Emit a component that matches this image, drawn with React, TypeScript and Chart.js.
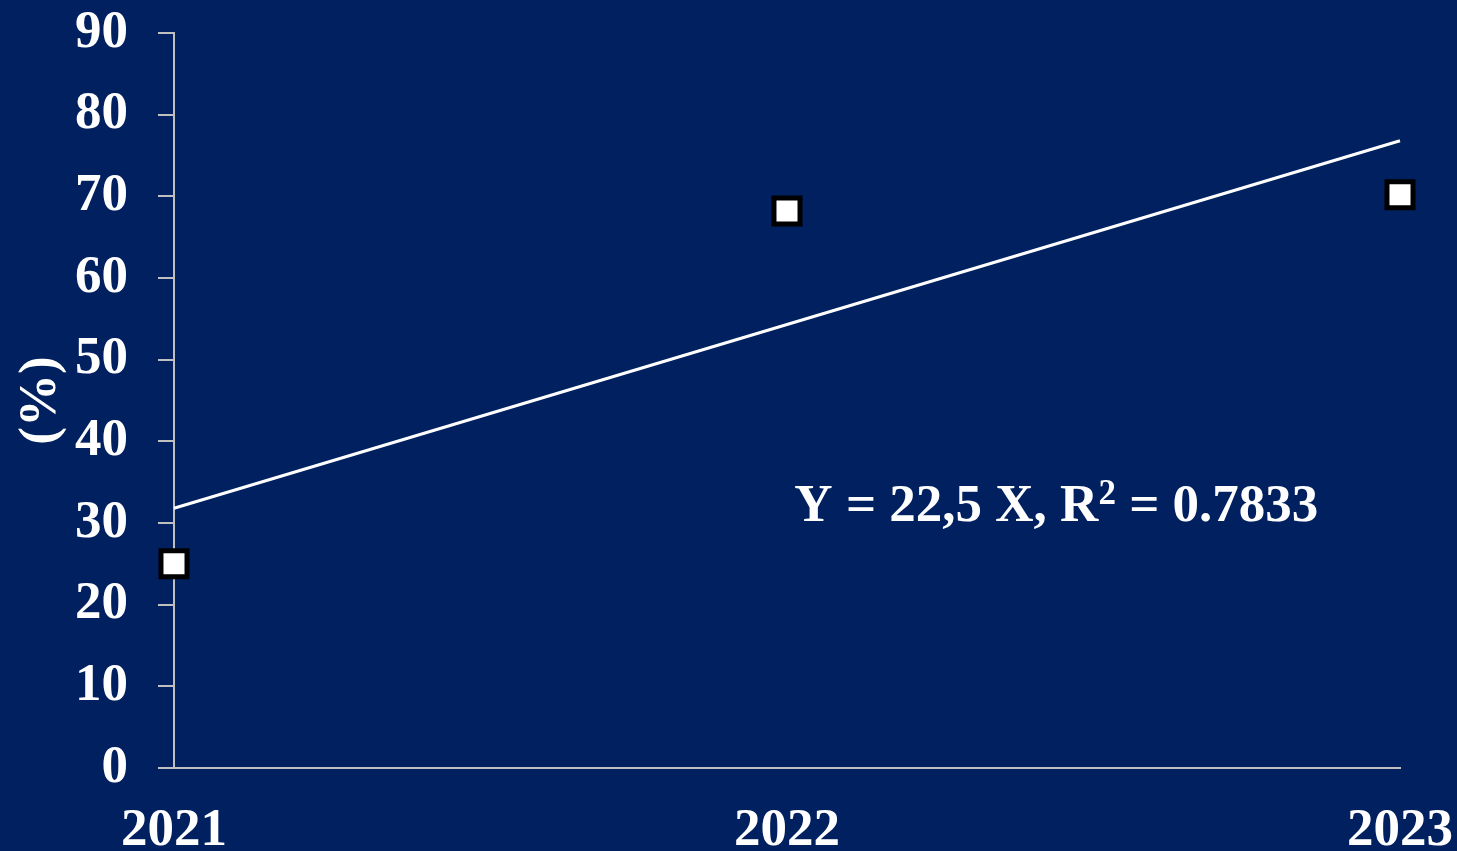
import React, { useEffect, useRef } from "react";
import { Chart, registerables } from "chart.js";

Chart.register(...registerables);

const years = ["2021", "2022", "2023"];
const observed = [25, 68.2, 70.2];
const trend = [31.8, null, 76.8];
const yTicks = [0, 10, 20, 30, 40, 50, 60, 70, 80, 90];
const equationMain = "Y = 22,5 X, R";
const equationSup = "2";
const equationTail = " = 0.7833";

const FONT = '"Liberation Serif", "Times New Roman", serif';
const BG = "#002060";
const AXIS = "#bfbfbf";

export default function App() {
  const ref = useRef<HTMLCanvasElement | null>(null);

  useEffect(() => {
    if (!ref.current) return;
    const bgPlugin = {
      id: "bg",
      beforeDraw(chart: any) {
        const { ctx, width, height } = chart;
        ctx.save();
        ctx.fillStyle = BG;
        ctx.fillRect(0, 0, width, height);
        ctx.restore();
      },
    };
    const eqPlugin = {
      id: "eq",
      afterDraw(chart: any) {
        const { ctx } = chart;
        const xs = chart.scales.x;
        const ys = chart.scales.y;
        let x = xs.getPixelForValue(1.012);
        const y = ys.getPixelForValue(30.25);
        ctx.save();
        ctx.fillStyle = "#ffffff";
        ctx.textBaseline = "alphabetic";
        ctx.textAlign = "left";
        ctx.font = `bold 53px ${FONT}`;
        ctx.fillText(equationMain, x, y);
        x += ctx.measureText(equationMain).width;
        ctx.font = `bold 35px ${FONT}`;
        ctx.fillText(equationSup, x, y - 17);
        x += ctx.measureText(equationSup).width;
        ctx.font = `bold 53px ${FONT}`;
        ctx.fillText(equationTail, x, y);
        ctx.restore();
      },
    };
    const chart = new Chart(ref.current, {
      type: "line",
      data: {
        labels: years,
        datasets: [
          {
            label: "trend",
            data: trend,
            borderColor: "#ffffff",
            borderWidth: 3,
            pointRadius: 0,
            spanGaps: true,
            fill: false,
            tension: 0,
          },
          {
            label: "observed",
            data: observed,
            showLine: false,
            pointStyle: "rect",
            pointRadius: 18.4,
            pointBorderWidth: 5,
            pointBorderColor: "#000000",
            pointBackgroundColor: "#ffffff",
          },
        ],
      },
      options: {
        responsive: false,
        animation: false,
        events: [],
        layout: { autoPadding: false, padding: { left: 0, top: 33, right: 57, bottom: 0 } },
        plugins: {
          legend: { display: false },
          tooltip: { enabled: false },
        },
        scales: {
          x: {
            type: "category",
            offset: false,
            grid: { display: false, drawTicks: false, drawOnChartArea: false },
            border: { display: true, color: AXIS, width: 2 },
            ticks: {
              color: "#ffffff",
              font: { family: FONT, size: 53, weight: "bold" },
              padding: 32,
              maxRotation: 0,
              autoSkip: false,
            },
            afterFit(scale: any) {
              scale.height = 83;
              scale.paddingLeft = 0;
              scale.paddingRight = 0;
            },
          },
          y: {
            min: 0,
            max: 90,
            afterBuildTicks(scale: any) {
              scale.ticks = yTicks.map((v) => ({ value: v }));
            },
            grid: {
              drawOnChartArea: false,
              drawTicks: true,
              tickLength: 16,
              color: AXIS,
              lineWidth: 2,
            },
            border: { display: true, color: AXIS, width: 2 },
            ticks: {
              color: "#ffffff",
              font: { family: FONT, size: 53, weight: "bold" },
              padding: 30,
            },
            title: {
              display: true,
              text: "(%)",
              color: "#ffffff",
              font: { family: FONT, size: 53, weight: "bold" },
              padding: { top: 10, bottom: 0 },
            },
            afterFit(scale: any) {
              scale.width = 174;
              scale.paddingTop = 0;
              scale.paddingBottom = 0;
            },
          },
        },
      },
      plugins: [bgPlugin, eqPlugin],
    });
    return () => chart.destroy();
  }, []);

  return (
    <div style={{ position: "fixed", left: 0, top: 0, width: 1457, height: 851, background: BG }}>
      <canvas ref={ref} width={1457} height={851} style={{ display: "block" }} />
    </div>
  );
}
